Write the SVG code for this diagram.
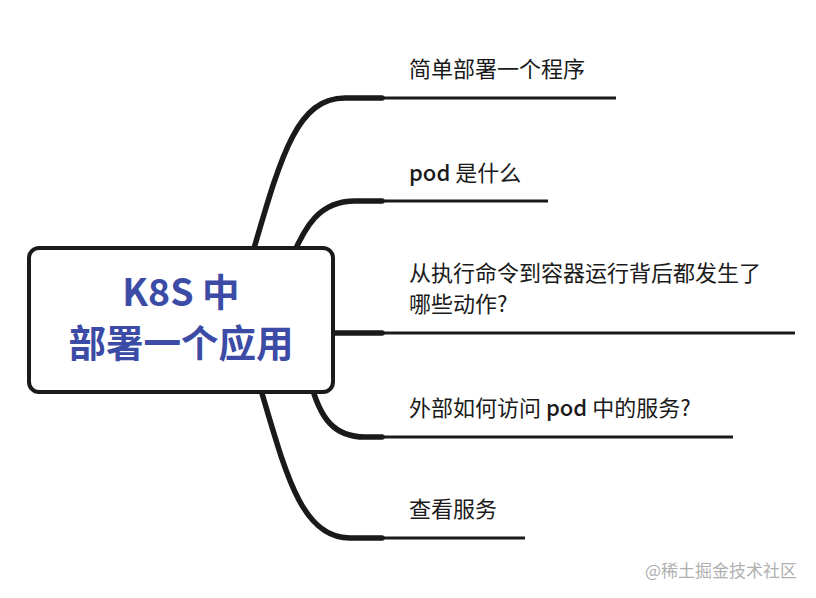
<svg xmlns="http://www.w3.org/2000/svg" width="816" height="598" viewBox="0 0 816 598">
<style>
.thick{fill:none;stroke:#1a1a1a;stroke-width:5.5;stroke-linecap:round}
.thin{fill:none;stroke:#1a1a1a;stroke-width:3}
.lbl{font-family:"Noto Sans CJK SC","Liberation Sans",sans-serif;font-size:22px;fill:#1a1a1a}
.pod{font-weight:500}
.title{font-family:"Noto Sans CJK SC","Liberation Sans",sans-serif;font-size:37.5px;font-weight:bold;fill:#3c4ca6;text-anchor:middle}
</style>
<rect width="816" height="598" fill="#ffffff"/>
<g id="connectors">
<path class="thick" d="M250 262 C280 160 295 98 345 98 L382 98"/>
<line class="thin" x1="380" y1="98" x2="616" y2="98"/>
<path class="thick" d="M290 262 C305 225 320 201 355 201 L382 201"/>
<line class="thin" x1="380" y1="201" x2="548" y2="201"/>
<path class="thick" d="M330 333 L382 333"/>
<line class="thin" x1="380" y1="333" x2="795" y2="333"/>
<path class="thick" d="M310 380 C320 420 335 437 365 437 L382 437"/>
<line class="thin" x1="380" y1="437" x2="733" y2="437"/>
<path class="thick" d="M258 380 C285 470 300 538 350 538 L382 538"/>
<line class="thin" x1="380" y1="538" x2="525" y2="538"/>
</g>
<g id="root">
<rect x="29" y="248" width="304" height="144" rx="10" fill="#ffffff" stroke="#1a1a1a" stroke-width="4"/>
<text class="title" x="181" y="306">K8S 中</text>
<text class="title" x="181" y="357">部署一个应用</text>
</g>
<g id="n1"><text class="lbl" x="409" y="77">简单部署一个程序</text></g>
<g id="n2"><text class="lbl" x="409" y="181"><tspan class="pod">pod</tspan> 是什么</text></g>
<g id="n3"><text class="lbl" x="409" y="281">从执行命令到容器运行背后都发生了</text><text class="lbl" x="409" y="312">哪些动作?</text></g>
<g id="n4"><text class="lbl" x="409" y="416">外部如何访问 <tspan class="pod">pod</tspan> 中的服务?</text></g>
<g id="n5"><text class="lbl" x="409" y="517">查看服务</text></g>
<text x="797" y="577" text-anchor="end" font-family="Noto Sans CJK SC, sans-serif" font-size="17" fill="#b0b0b0">@稀土掘金技术社区</text>
</svg>
